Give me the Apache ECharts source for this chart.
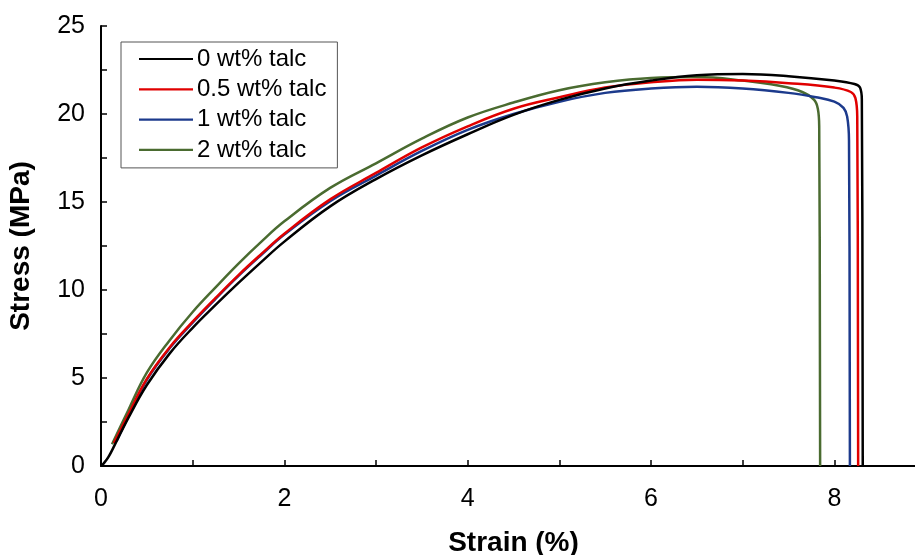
<!DOCTYPE html>
<html><head><meta charset="utf-8">
<script src="https://cdn.jsdelivr.net/npm/echarts@6/dist/echarts.min.js"></script>
<style>html,body{margin:0;padding:0;background:#fff}#c{width:915px;height:555px}</style>
</head><body><div id="c"></div>
<script>
const seriesNames = ['0 wt% talc', '0.5 wt% talc', '1 wt% talc', '2 wt% talc'];
const talc0 = [[0,0],[0.03,0.15],[0.08,0.5],[0.15,1.2],[0.3,2.75],[0.5,4.6],[0.75,6.4],[1.0,7.85],[1.25,9.15],[1.5,10.4],[1.75,11.6],[2.0,12.75],[2.5,14.75],[3.0,16.3],[3.5,17.65],[4.0,18.85],[4.5,19.95],[5.0,20.8],[5.5,21.45],[6.0,21.9],[6.5,22.2],[7.0,22.27],[7.5,22.15],[8.0,21.9],[8.22,21.7],[8.28,21.5],[8.3,20.8],[8.31,0]];
const talc05 = [[0.14,1.3],[0.3,2.95],[0.5,4.95],[0.75,6.75],[1.0,8.2],[1.25,9.55],[1.5,10.85],[1.75,12.05],[2.0,13.2],[2.5,15.15],[3.0,16.65],[3.5,18.1],[4.0,19.3],[4.5,20.3],[5.0,20.95],[5.5,21.5],[6.0,21.8],[6.5,21.95],[7.0,21.9],[7.5,21.75],[8.0,21.5],[8.18,21.25],[8.23,20.9],[8.25,19.8],[8.26,0]];
const talc1 = [[0.17,1.4],[0.3,2.85],[0.5,4.9],[0.75,6.7],[1.0,8.15],[1.25,9.5],[1.5,10.8],[1.75,12.0],[2.0,13.15],[2.5,15.05],[3.0,16.5],[3.5,17.9],[4.0,19.1],[4.5,20.0],[5.0,20.7],[5.5,21.2],[6.0,21.45],[6.5,21.55],[7.0,21.45],[7.5,21.2],[7.8,20.95],[8.0,20.7],[8.1,20.35],[8.14,19.85],[8.16,18.5],[8.17,0]];
const talc2 = [[0.12,1.24],[0.3,3.2],[0.5,5.3],[0.75,7.15],[1.0,8.75],[1.25,10.15],[1.5,11.5],[1.75,12.75],[2.0,13.9],[2.5,15.8],[3.0,17.2],[3.5,18.6],[4.0,19.8],[4.5,20.65],[5.0,21.35],[5.5,21.8],[6.0,22.05],[6.5,22.1],[7.0,21.9],[7.4,21.6],[7.65,21.25],[7.78,20.8],[7.82,20.3],[7.835,19.3],[7.845,0]];
const xTicks = [0,1,2,3,4,5,6,7,8,9];
const xLabels = [0,2,4,6,8];
const yTicks = [0,2.5,5,7.5,10,12.5,15,17.5,20,22.5,25];
const yLabels = [0,5,10,15,20,25];
const colors = ['#000000', '#e00000', '#1c3a8c', '#4a6b30'];
const dataSets = [talc0, talc05, talc1, talc2];

const chart = echarts.init(document.getElementById('c'));
const font = '"Liberation Sans", Arial, sans-serif';
chart.setOption({
  animation: false,
  grid: {left: 101, top: 26, right: -11, bottom: 89, outerBoundsMode: 'none', containLabel: false},
  legend: {
    orient: 'vertical', left: 121, top: 42,
    data: seriesNames,
    icon: 'rect', itemWidth: 54, itemHeight: 2.2, itemGap: 6.3,
    padding: [5, 11, 6, 18],
    borderColor: '#555', borderWidth: 1,
    textStyle: {fontFamily: font, fontSize: 24, color: '#000', lineHeight: 24, padding: [0,0,0,-1]}
  },
  xAxis: {
    type: 'value', min: xTicks[0], max: xTicks[xTicks.length-1], interval: 1,
    name: 'Strain (%)', nameLocation: 'middle', nameGap: 63,
    nameTextStyle: {fontFamily: font, fontSize: 28, fontWeight: 'bold', color: '#000'},
    axisLine: {show: true, onZero: false, lineStyle: {color: '#000', width: 2}},
    axisTick: {show: true, inside: true, length: 6, lineStyle: {color: '#000', width: 1.5}},
    axisLabel: {margin: 21, fontFamily: font, fontSize: 25, color: '#000',
      formatter: v => xLabels.includes(v) ? String(v) : ''},
    splitLine: {show: false}
  },
  yAxis: {
    type: 'value', min: yTicks[0], max: yTicks[yTicks.length-1], interval: 2.5,
    name: 'Stress (MPa)', nameLocation: 'middle', nameGap: 66,
    nameTextStyle: {fontFamily: font, fontSize: 28, fontWeight: 'bold', color: '#000'},
    axisLine: {show: true, onZero: false, lineStyle: {color: '#000', width: 2}},
    axisTick: {show: true, inside: true, length: 6, lineStyle: {color: '#000', width: 1.5}},
    axisLabel: {margin: 16, fontFamily: font, fontSize: 25, color: '#000',
      formatter: v => yLabels.includes(v) ? String(v) : ''},
    splitLine: {show: false}
  },
  series: [3,2,1,0].map(i => ({
    name: seriesNames[i], type: 'line', data: dataSets[i], smooth: 0.4,
    showSymbol: false, symbol: 'none', color: colors[i],
    lineStyle: {color: colors[i], width: 2.5}, z: 10 - i
  }))
});
</script></body></html>
